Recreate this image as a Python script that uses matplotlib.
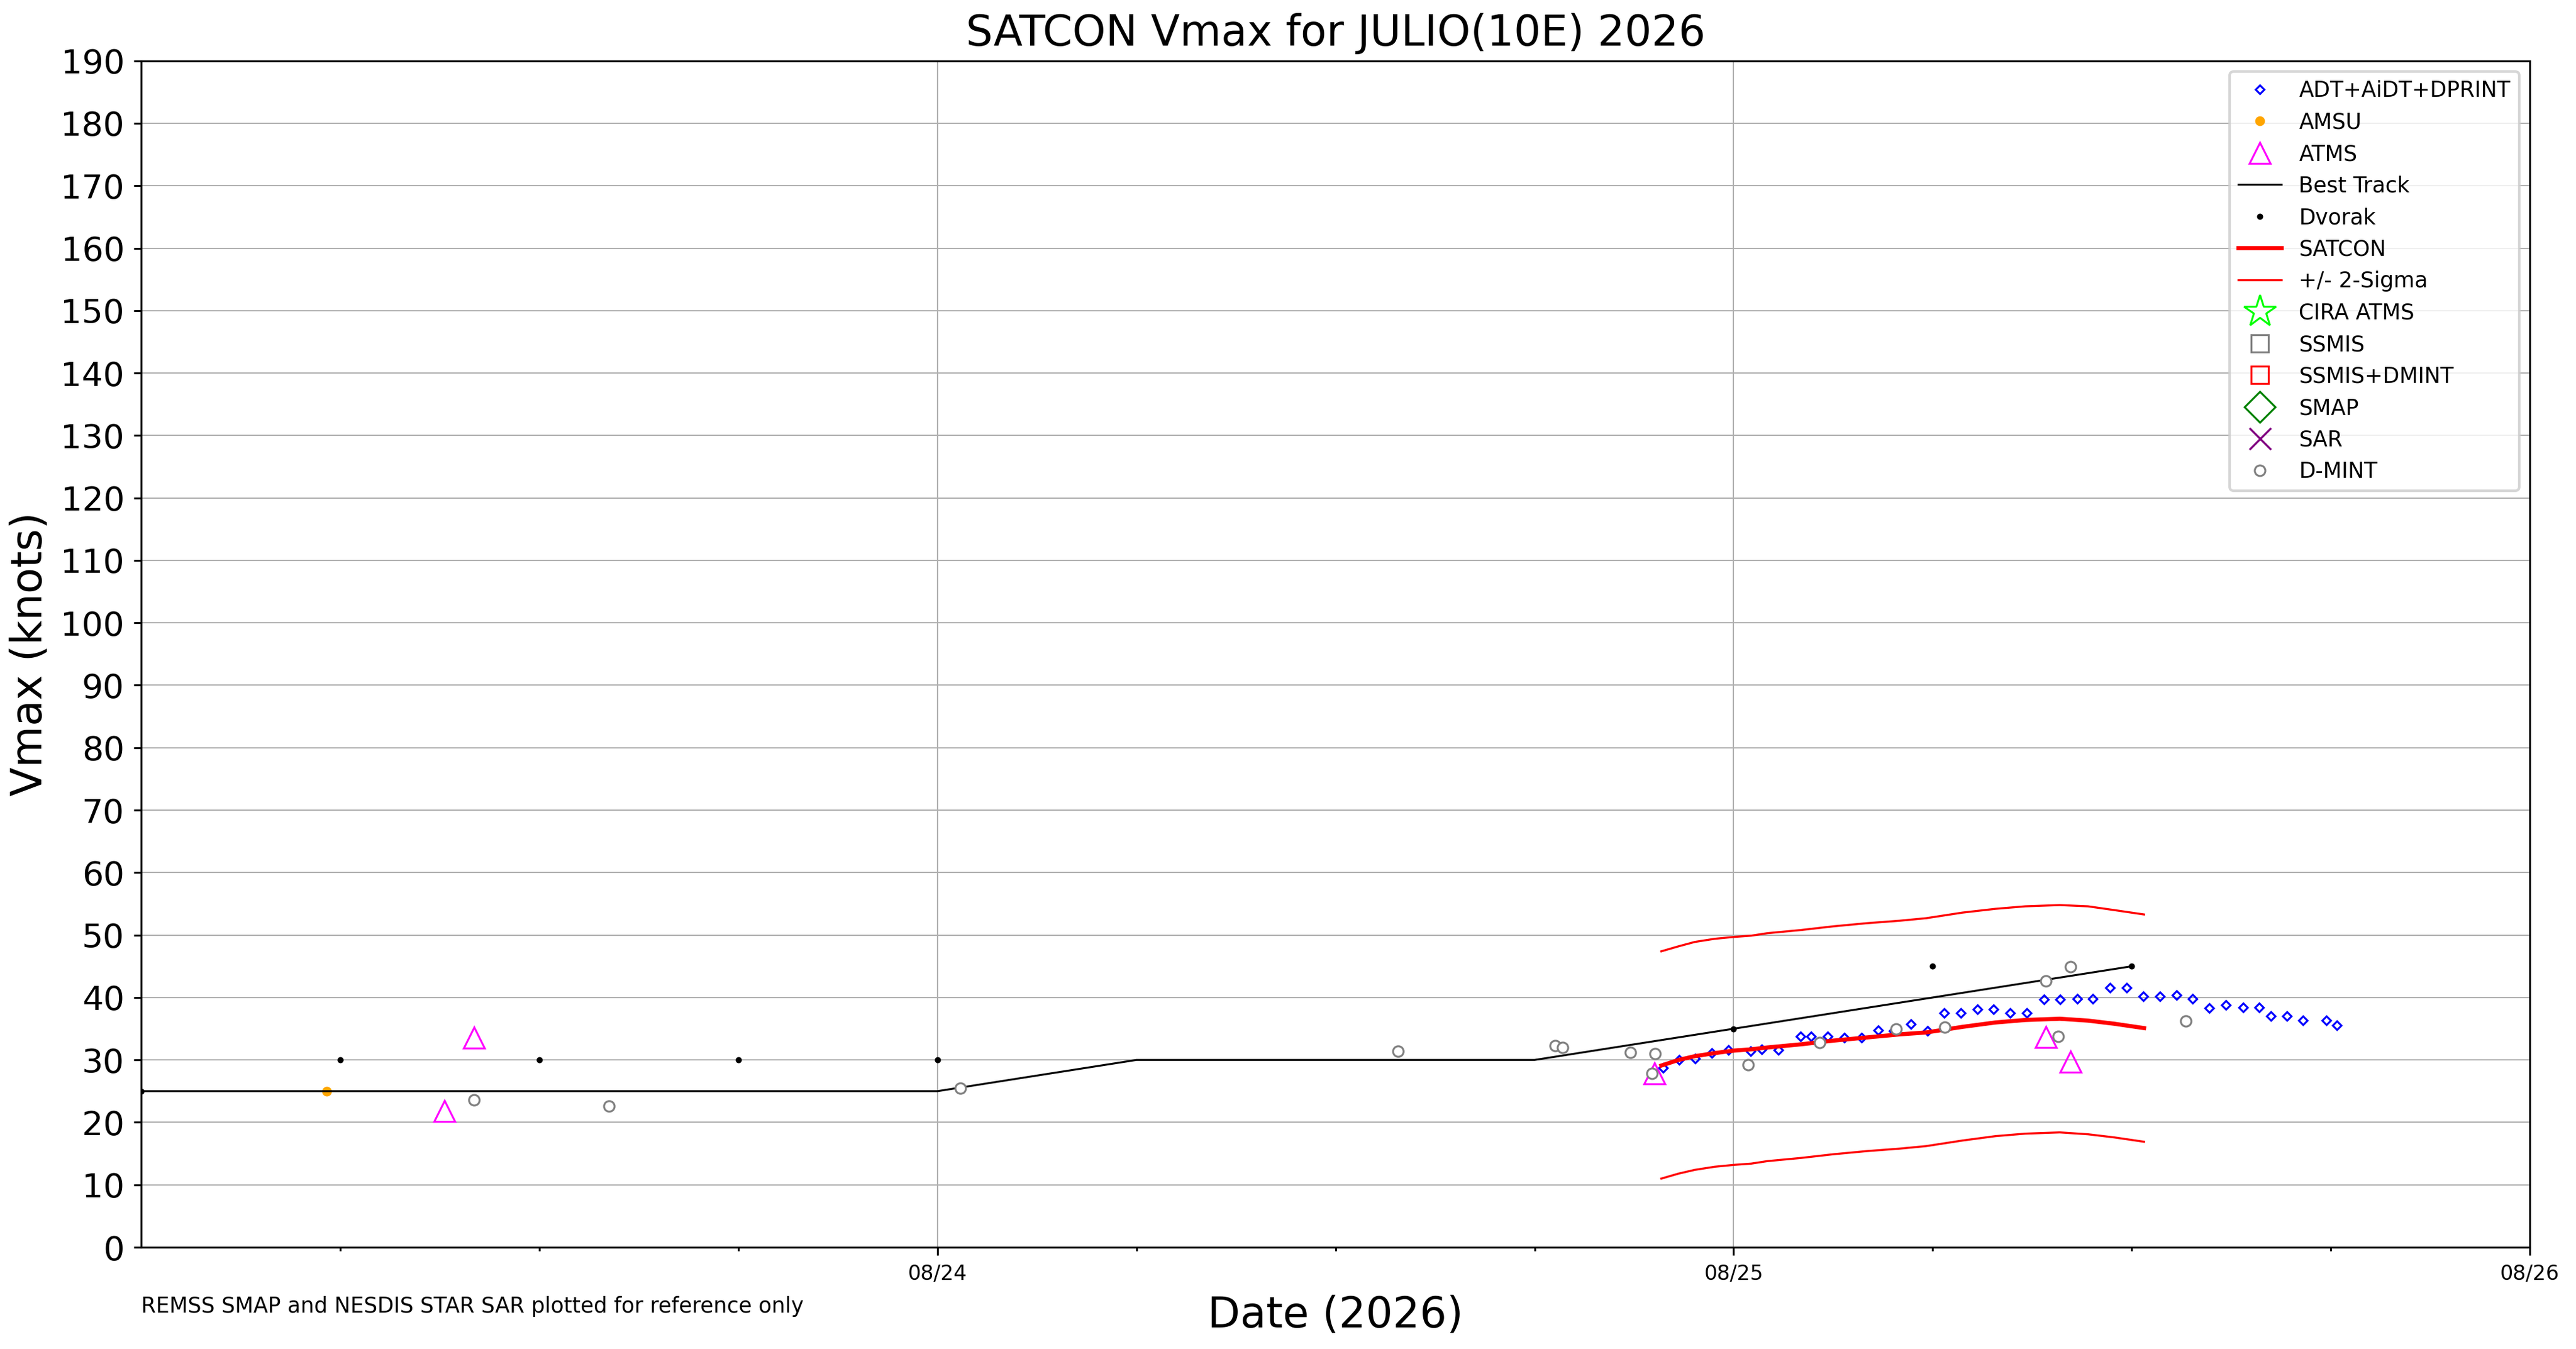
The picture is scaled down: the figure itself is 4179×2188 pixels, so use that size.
import matplotlib
matplotlib.use('Agg')
import matplotlib.pyplot as plt
import matplotlib.dates as mdates
import pandas as pd

# hours after 2026-08-23 00Z
t0 = pd.Timestamp('2026-08-23 00:00')

bt_hours = [0, 6, 12, 18, 24, 30, 36, 42, 48, 54, 60]
bt_vmax = [25, 25, 25, 25, 25, 30, 30, 30, 35, 40, 45]

dvorak_hours = [0, 6, 12, 18, 24, 48, 54, 60]
dvorak_vmax = [25, 30, 30, 30, 30, 35, 45, 45]

amsu_hours = [5.6]
amsu_vmax = [25]

atms_hours = [9.14, 10.04, 45.62, 57.41, 58.16]
atms_vmax = [21.8, 33.6, 27.8, 33.7, 29.7]

dmint_hours = [10.04, 14.1, 24.7, 37.89, 42.63, 42.84, 44.88, 45.54, 45.63,
               48.44, 50.6, 52.9, 54.36, 57.41, 57.78, 58.16, 61.62]
dmint_vmax = [23.6, 22.6, 25.5, 31.4, 32.3, 32.0, 31.2, 27.8, 31.0,
              29.2, 32.8, 35.0, 35.3, 42.7, 33.8, 44.9, 36.2]

adt_hours = [45.87, 46.36, 46.84, 47.34, 47.85, 48.52, 48.85, 49.35, 50.01, 50.34,
             50.83, 51.34, 51.85, 52.36, 52.82, 53.34, 53.85, 54.35, 54.85, 55.35,
             55.84, 56.34, 56.84, 57.35, 57.84, 58.36, 58.83, 59.35, 59.84, 60.35,
             60.85, 61.35, 61.84, 62.34, 62.84, 63.35, 63.84, 64.19, 64.67, 65.16,
             65.86, 66.19]
adt_vmax = [28.7, 30.0, 30.2, 31.1, 31.6, 31.4, 31.7, 31.6, 33.8, 33.8,
            33.8, 33.6, 33.6, 34.75, 34.7, 35.75, 34.7, 37.5, 37.5, 38.1,
            38.1, 37.5, 37.5, 39.7, 39.7, 39.8, 39.8, 41.55, 41.55, 40.15,
            40.15, 40.4, 39.8, 38.3, 38.85, 38.4, 38.4, 37.0, 37.05, 36.3,
            36.3, 35.5]

satcon_hours = [45.82, 46.34, 46.83, 47.43, 48.01, 48.53, 49.02, 50.02, 51.01, 52.01,
                53.01, 53.8, 54.9, 55.89, 56.79, 57.83, 58.68, 59.47, 60.37]
satcon_vmax = [29.1, 30.0, 30.6, 31.1, 31.5, 31.7, 32.0, 32.5, 33.1, 33.6,
               34.1, 34.4, 35.3, 36.0, 36.4, 36.6, 36.3, 35.8, 35.1]
sigma_upper = [47.4, 48.2, 48.9, 49.4, 49.7, 49.9, 50.3, 50.8, 51.4, 51.9,
               52.3, 52.7, 53.6, 54.2, 54.6, 54.8, 54.6, 54.0, 53.3]
sigma_lower = [11.0, 11.8, 12.4, 12.9, 13.2, 13.4, 13.8, 14.3, 14.9, 15.4,
               15.8, 16.2, 17.1, 17.8, 18.2, 18.4, 18.1, 17.6, 16.9]

# no fixes for these in this storm
cira_hours, cira_vmax = [], []
ssmis_hours, ssmis_vmax = [], []
ssmis_dmint_hours, ssmis_dmint_vmax = [], []
smap_hours, smap_vmax = [], []
sar_hours, sar_vmax = [], []


def to_time(hours):
    return t0 + pd.to_timedelta(hours, unit='h')


fig = plt.figure(figsize=(4179 / 300, 2188 / 300), dpi=300)
ax = fig.add_axes([0.0548, 0.0754, 0.9273, 0.8795])

ax.plot(to_time(adt_hours), adt_vmax, 'D', ms=2.5, mfc='none', mec='blue', mew=0.75,
        ls='none', label='ADT+AiDT+DPRINT', zorder=3)
ax.plot(to_time(amsu_hours), amsu_vmax, 'o', ms=3.8, color='orange', mew=0,
        ls='none', label='AMSU', zorder=4)
ax.plot(to_time(atms_hours), atms_vmax, '^', ms=8.3, mfc='none', mec='magenta', mew=0.75,
        ls='none', label='ATMS', zorder=5)
ax.plot(to_time(bt_hours), bt_vmax, '-', color='black', lw=0.75, label='Best Track', zorder=4)
ax.plot(to_time(dvorak_hours), dvorak_vmax, 'o', ms=2.4, color='black', mew=0,
        ls='none', label='Dvorak', zorder=4)
ax.plot(to_time(satcon_hours), satcon_vmax, '-', color='red', lw=1.6, label='SATCON', zorder=4)
ax.plot(to_time(satcon_hours), sigma_upper, '-', color='red', lw=0.8, label='+/- 2-Sigma', zorder=4)
ax.plot(to_time(satcon_hours), sigma_lower, '-', color='red', lw=0.8, zorder=4)
ax.plot(to_time(cira_hours), cira_vmax, '*', ms=13, mfc='none', mec='lime', mew=0.75,
        ls='none', label='CIRA ATMS')
ax.plot(to_time(ssmis_hours), ssmis_vmax, 's', ms=6.5, mfc='none', mec='gray', mew=0.75,
        ls='none', label='SSMIS')
ax.plot(to_time(ssmis_dmint_hours), ssmis_dmint_vmax, 's', ms=6.5, mfc='none', mec='red',
        mew=0.75, ls='none', label='SSMIS+DMINT')
ax.plot(to_time(smap_hours), smap_vmax, 'D', ms=8.5, mfc='none', mec='green', mew=0.75,
        ls='none', label='SMAP')
ax.plot(to_time(sar_hours), sar_vmax, 'x', ms=8.4, color='purple', mew=0.8,
        ls='none', label='SAR')
ax.plot(to_time(dmint_hours), dmint_vmax, 'o', ms=4.1, mfc='white', mec='gray', mew=0.75,
        ls='none', label='D-MINT', zorder=6)

ax.set_xlim(t0, t0 + pd.Timedelta(days=3))
ax.set_ylim(0, 190)
ax.set_yticks(range(0, 191, 10))
ax.tick_params(axis='y', labelsize=13, length=3, width=0.75)

ax.set_xticks(to_time([24, 48, 72]))
ax.xaxis.set_major_formatter(mdates.DateFormatter('%m/%d'))
ax.set_xticks(to_time([6, 12, 18, 30, 36, 42, 54, 60, 66]), minor=True)
ax.tick_params(axis='x', which='major', labelsize=8, length=3, width=0.75)
ax.tick_params(axis='x', which='minor', length=1.5, width=0.75)

for s in ax.spines.values():
    s.set_linewidth(0.75)

ax.grid(True, which='major', color='#b0b0b0', lw=0.5)
ax.set_axisbelow(True)

ax.set_title('SATCON Vmax for JULIO(10E) 2026', fontsize=16.5)
ax.set_xlabel('Date (2026)', fontsize=16.5)
ax.set_ylabel('Vmax (knots)', fontsize=16.5)

ax.legend(loc='upper right', fontsize=8.4, labelspacing=0.5)

fig.text(0.0548, 0.0315, 'REMSS SMAP and NESDIS STAR SAR plotted for reference only',
         fontsize=8.3, va='center')

fig.savefig('out.png', dpi=300)
